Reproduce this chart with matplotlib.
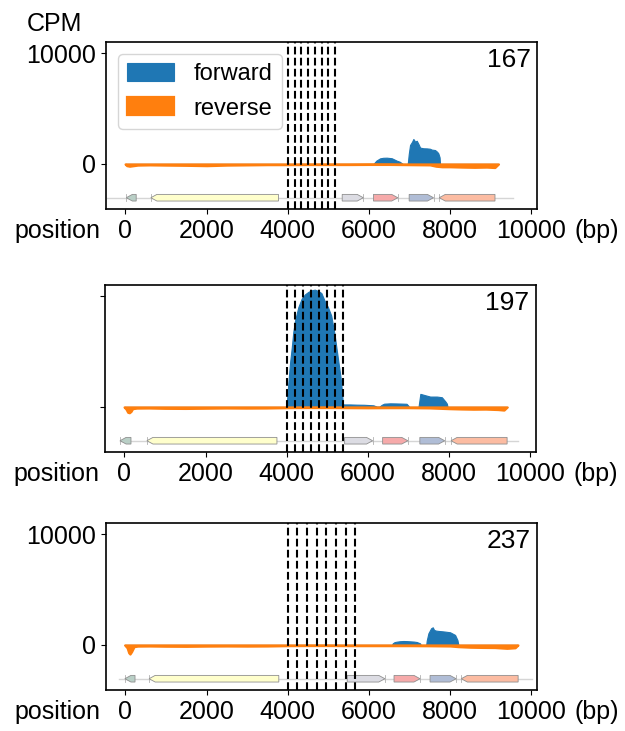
import numpy as np
import matplotlib.pyplot as plt
from matplotlib.patches import Polygon

plt.rcParams['font.family'] = ['Liberation Sans', 'DejaVu Sans']
plt.rcParams['font.size'] = 18

# repeat unit length shown in each panel
labels = ['167', '197', '237']

# dashed lines (bp) = repeat boundaries
cuts_167 = [4000, 4167, 4334, 4501, 4668, 4835, 5002, 5169]
cuts_197 = [4000, 4197, 4394, 4591, 4788, 4985, 5182, 5379]
cuts_237 = [4000, 4237, 4474, 4711, 4948, 5185, 5422, 5659]

# forward coverage (CPM)
fwd_pos_167 = [-10, 6110, 6180, 6273, 6350, 6438, 6561, 6684, 6760, 6832, 6955, 6980, 7012,
               7060, 7094, 7115, 7135, 7177, 7220, 7259, 7300, 7340, 7424, 7500, 7547, 7628,
               7680, 7709, 7740, 7751, 9190]
fwd_val_167 = [0, 0, 300, 510, 560, 570, 520, 300, 200, 0, 0, 900, 1720,
               2000, 2260, 2150, 2020, 2100, 1800, 1480, 1450, 1420, 1410, 1380, 1300, 1260,
               1100, 960, 600, 0, 0]

fwd_pos_197 = [-10, 3995, 4000, 4041, 4080, 4122, 4160, 4203, 4284, 4365, 4446, 4527, 4608,
               4689, 4770, 4851, 4932, 5013, 5094, 5175, 5256, 5337, 5370, 5385, 5395, 5560,
               5724, 5900, 6135, 6217, 6280, 6341, 6400, 6546, 6700, 6793, 6950, 6998, 7010,
               7245, 7290, 7327, 7409, 7533, 7697, 7820, 7903, 7944, 7960, 9430]
fwd_val_197 = [0, 0, 400, 2340, 4000, 5380, 6800, 7810, 9030, 9790, 10180, 10400, 10550,
               10610, 10500, 10300, 9600, 9030, 8270, 6600, 4470, 2340, 800, 300, 230, 230,
               210, 200, 150, 30, 30, 200, 300, 330, 320, 310, 290, 100, 0,
               0, 1185, 1150, 1064, 942, 942, 881, 517, 300, 0, 0]

fwd_pos_237 = [-20, 6570, 6585, 6630, 6684, 6760, 6847, 6930, 7012, 7100, 7176, 7258, 7275,
               7410, 7423, 7464, 7530, 7571, 7604, 7650, 7711, 7800, 7875, 7998, 8121, 8179,
               8203, 9670]
fwd_val_237 = [0, 0, 150, 260, 300, 340, 360, 350, 330, 310, 270, 150, 0,
               0, 400, 1060, 1510, 1600, 1360, 1300, 1270, 1240, 1210, 1150, 910, 450,
               0, 0]

# reverse coverage (CPM, negative)
rev_pos_167 = [-10, 30, 100, 200, 300, 600, 1000, 1500, 2000, 2500, 3000, 3500, 4000, 4500,
               5000, 5500, 6000, 6500, 7000, 7500, 7650, 7800, 8000, 8300, 8600, 8900, 9100, 9190]
rev_val_167 = [0, -150, -200, -150, -100, -80, -100, -120, -150, -100, -80, -60, -60, -50,
               -50, -50, -40, -40, -60, -80, -200, -250, -250, -280, -300, -280, -320, 0]

rev_pos_197 = [-10, 40, 80, 120, 160, 200, 300, 600, 1000, 1500, 2000, 2500, 3000, 3500,
               4000, 4500, 5000, 5500, 6000, 6500, 7000, 7500, 8000, 8300, 8600, 8900, 9200,
               9350, 9430]
rev_val_197 = [0, -200, -480, -520, -400, -150, -100, -90, -120, -130, -110, -90, -100, -90,
               -60, -50, -50, -60, -70, -60, -60, -80, -150, -180, -200, -190, -230,
               -280, 0]

rev_pos_237 = [-20, 40, 80, 110, 150, 210, 300, 600, 1000, 1500, 2000, 2500, 3000, 3500,
               4000, 4500, 5000, 5500, 6000, 6500, 7000, 7500, 8000, 8200, 8500, 8800, 9100,
               9400, 9600, 9670]
rev_val_237 = [0, -250, -700, -820, -600, -150, -100, -90, -110, -120, -100, -90, -100, -90,
               -60, -50, -50, -60, -60, -60, -60, -70, -90, -150, -200, -220, -230,
               -300, -250, 0]

# gene map
gene_strand = [-1, -1, 1, 1, 1, -1]
gene_colors = ['#b9cfc6', '#ffffcc', '#dcdce3', '#f6aaaa', '#b0bdd6', '#fcbca2']
gene_start_167 = [20, 625, 5340, 6110, 6990, 7730]
gene_end_167 = [264, 3770, 5860, 6710, 7590, 9105]
gene_start_197 = [-110, 552, 5424, 6361, 7278, 8047]
gene_end_197 = [160, 3757, 6114, 6982, 7890, 9428]
gene_start_237 = [-15, 582, 5464, 6617, 7505, 8274]
gene_end_237 = [235, 3778, 6391, 7258, 8146, 9675]
seq_span_167 = [-460, 9550]
seq_span_197 = [-118, 9694]
seq_span_237 = [-160, 10020]

panels = [
    (labels[0], cuts_167, fwd_pos_167, fwd_val_167, rev_pos_167, rev_val_167,
     gene_start_167, gene_end_167, seq_span_167),
    (labels[1], cuts_197, fwd_pos_197, fwd_val_197, rev_pos_197, rev_val_197,
     gene_start_197, gene_end_197, seq_span_197),
    (labels[2], cuts_237, fwd_pos_237, fwd_val_237, rev_pos_237, rev_val_237,
     gene_start_237, gene_end_237, seq_span_237),
]

W, H = 625, 731
boxes = [(106, 42, 209), (105, 285, 452), (106, 523, 690)]  # left, top, bottom in px

gene_y = -3050
gene_h = 600
head = 150


def draw_gene(ax, start, end, strand, color):
    hl = min(head, end - start)
    y0, y1 = gene_y - gene_h / 2, gene_y + gene_h / 2
    if strand > 0:
        xs = [start, end - hl, end, end - hl, start]
        tip = end
    else:
        xs = [end, start + hl, start, start + hl, end]
        tip = start
    ys = [y0, y0, gene_y, y1, y1]
    ax.add_patch(Polygon(list(zip(xs, ys)), closed=True, fc=color, ec='#8f8f8f',
                         lw=0.6, zorder=3))
    ax.plot([tip, tip], [y0, y1], color='#b0b0b0', lw=0.6, zorder=2)


fig = plt.figure(figsize=(W / 100, H / 100), dpi=100)

for i, (lab, cuts, fp, fv, rp, rv, gs, ge, span) in enumerate(panels):
    left, top, bottom = boxes[i]
    ax = fig.add_axes([left / W, 1 - bottom / H, 431 / W, (bottom - top) / H])

    ax.fill_between(fp, 0, fv, facecolor='#1f77b4', edgecolor='#1f77b4', lw=0.8,
                    label='forward', zorder=1)
    ax.fill_between(rp, rv, 0, facecolor='#ff7f0e', edgecolor='#ff7f0e', lw=1.6,
                    label='reverse', zorder=1.5)

    ax.plot(span, [gene_y, gene_y], color='#d5d5d5', lw=1.0, zorder=1)
    for s, e, st, c in zip(gs, ge, gene_strand, gene_colors):
        draw_gene(ax, s, e, st, c)

    for c in cuts:
        ax.axvline(c, color='black', ls='--', lw=1.5, zorder=5)

    ax.set_xlim(-480, 10140)
    ax.set_ylim(-4070, 11030)
    ax.set_xticks([0, 2000, 4000, 6000, 8000, 10000])
    ax.set_yticks([0, 10000])
    if i == 1:
        ax.set_yticklabels(['', ''])
    for sp in ax.spines.values():
        sp.set_linewidth(1.2)

    ax.text(0.985, 0.965, lab, transform=ax.transAxes, ha='right', va='top', fontsize=19)
    ax.annotate('position', xy=(0, 0), xycoords='axes fraction', xytext=(-4, -7),
                textcoords='offset points', ha='right', va='top')
    ax.annotate('(bp)', xy=(1, 0), xycoords='axes fraction', xytext=(27, -7),
                textcoords='offset points', ha='left', va='top')

    if i == 0:
        ax.legend(loc='upper left', handleheight=0.8, fontsize=17)
        ax.annotate('CPM', xy=(0, 1), xycoords='axes fraction', xytext=(-37, 13),
                    textcoords='offset points', ha='center', va='center')

fig.savefig('out.png', dpi=100)
